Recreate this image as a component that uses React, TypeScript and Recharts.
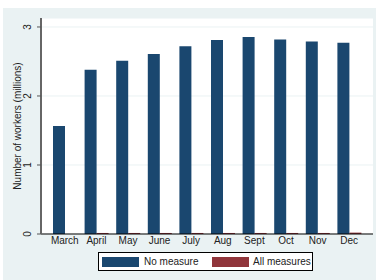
import { BarChart, Bar, XAxis, YAxis, CartesianGrid, Legend } from 'recharts';

const months = ['March', 'April', 'May', 'June', 'July', 'Aug', 'Sept', 'Oct', 'Nov', 'Dec'];
const noMeasure = [1.565, 2.38, 2.51, 2.61, 2.72, 2.81, 2.855, 2.82, 2.79, 2.77];
const allMeasures = [0, 0.015, 0.015, 0.015, 0.015, 0.015, 0.015, 0.015, 0.015, 0.02];
const yTicks = [0, 1, 2, 3];

const BLUE = '#1A476F';
const RED = '#90353B';
const BG = '#EAF2F3';
const FONT = '"Liberation Sans", Arial, sans-serif';

const data = months.map((m, i) => ({ month: m, none: noMeasure[i], all: allMeasures[i] }));

function YTick({ x, y, payload }: any) {
  return (
    <text
      x={x - 4}
      y={y}
      transform={`rotate(-90 ${x - 4} ${y})`}
      textAnchor="middle"
      fontSize={10}
      fontFamily={FONT}
      fill="#222"
    >
      {payload.value}
    </text>
  );
}

function LegendBox() {
  const sw = (left: number, color: string) => (
    <div style={{ position: 'absolute', left, top: 4, width: 37, height: 10, background: color }} />
  );
  const txt = (left: number, label: string) => (
    <span style={{ position: 'absolute', left, top: 2, whiteSpace: 'nowrap', lineHeight: '13px' }}>{label}</span>
  );
  return (
    <div
      style={{
        position: 'relative',
        width: 215,
        height: 19,
        border: '1px solid #000',
        background: '#fff',
        boxSizing: 'border-box',
        fontSize: 10,
        fontFamily: FONT,
        color: '#222',
      }}
    >
      {sw(3, BLUE)}
      {txt(45, 'No measure')}
      {sw(113, RED)}
      {txt(154, 'All measures')}
    </div>
  );
}

export default function App() {
  return (
    <div style={{ position: 'absolute', left: 0, top: 0, width: 376, height: 280, background: '#fff' }}>
      <div style={{ position: 'absolute', left: 3, top: 8, width: 373, height: 272, background: BG }} />
      <div
        style={{
          position: 'absolute',
          left: 41,
          top: 18,
          width: 332,
          height: 216,
          background: '#fff',
        }}
      />
      <div
        style={{
          position: 'absolute',
          left: 17,
          top: 126,
          transform: 'translate(-50%, -50%) rotate(-90deg)',
          whiteSpace: 'nowrap',
          fontSize: 10,
          fontFamily: FONT,
          color: '#222',
        }}
      >
        Number of workers (millions)
      </div>
      <BarChart
        width={376}
        height={280}
        data={data}
        margin={{ top: 18, right: 3, bottom: 30, left: 0 }}
        barGap={0}
        barSize={12}
        style={{ position: 'absolute', left: 0, top: 0 }}
      >
        <CartesianGrid vertical={false} stroke={BG} strokeWidth={1} />
        <XAxis
          dataKey="month"
          height={16}
          padding={{ left: 8, right: 8 }}
          tickLine={false}
          tickSize={0}
          tickMargin={3}
          axisLine={{ stroke: '#000', strokeWidth: 1.2 }}
          tick={{ fontSize: 10, fontFamily: FONT, fill: '#222' }}
          interval={0}
        />
        <YAxis
          width={41}
          domain={[0, 3.13]}
          ticks={yTicks}
          tick={<YTick />}
          tickSize={4}
          tickLine={{ stroke: '#555' }}
          axisLine={{ stroke: '#666', strokeWidth: 2 }}
          allowDataOverflow
        />
        <Legend
          layout="horizontal"
          verticalAlign="middle"
          align="center"
          wrapperStyle={{ position: 'absolute', left: 98, top: 252, width: 215 }}
          content={() => <LegendBox />}
        />
        <Bar dataKey="none" name="No measure" fill={BLUE} isAnimationActive={false} />
        <Bar dataKey="all" name="All measures" fill={RED} isAnimationActive={false} />
      </BarChart>
    </div>
  );
}
